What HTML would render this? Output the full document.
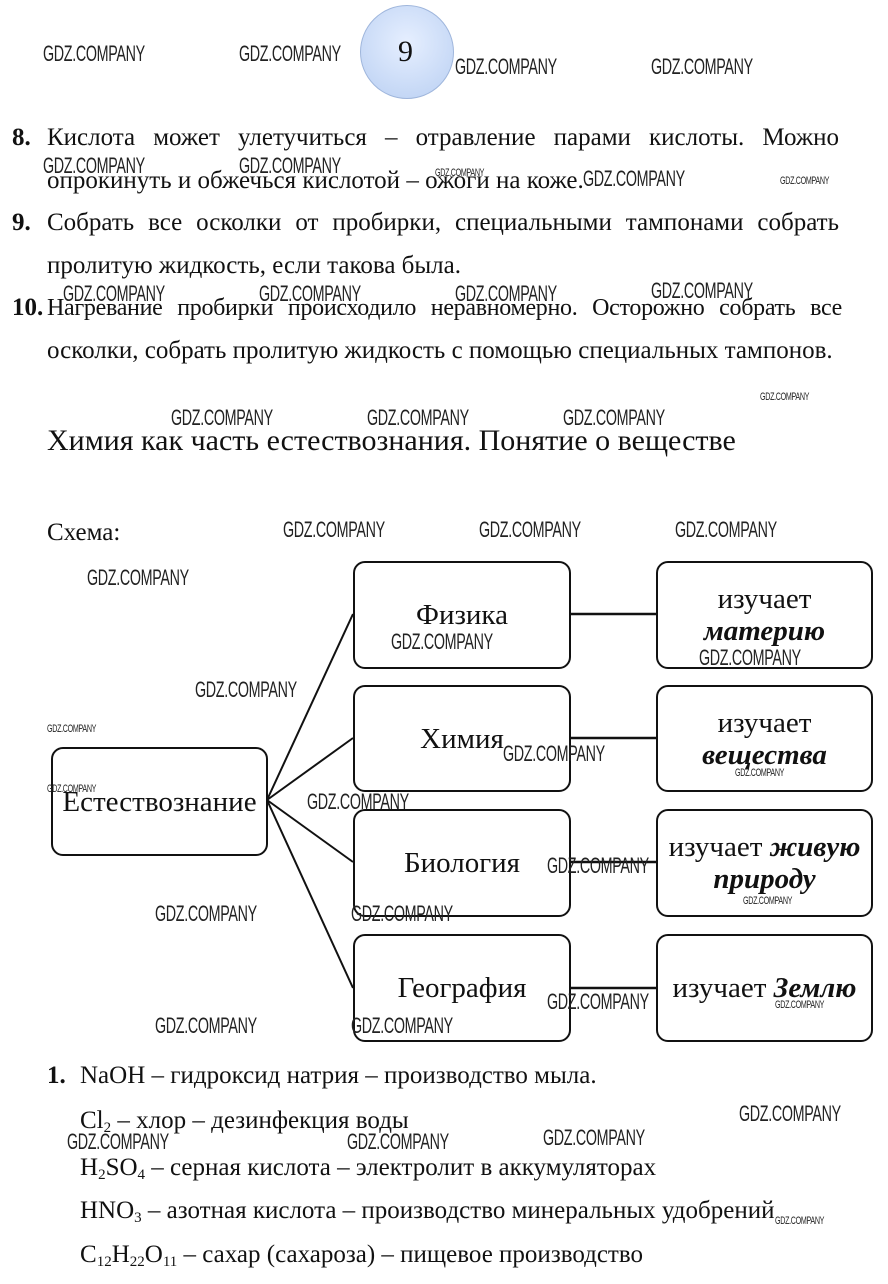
<!DOCTYPE html>
<html><head><meta charset="utf-8"><style>
body{margin:0;background:#fff;}
#p{position:relative;width:888px;height:1284px;overflow:hidden;font-family:"Liberation Serif","Noto Serif CJK SC",serif;color:#111;}
.t{position:absolute;font-size:25px;line-height:28px;white-space:nowrap;}
.j{text-align:justify;text-align-last:justify;white-space:normal;}
.w{position:absolute;font-family:"Liberation Sans",sans-serif;font-size:22px;line-height:22px;transform:scaleX(0.65);transform-origin:0 0;white-space:nowrap;color:#222;letter-spacing:-0.5px;}
.s{font-size:11px;line-height:11px;}
.b{position:absolute;border:2px solid #111;border-radius:12px;box-sizing:border-box;font-size:29px;line-height:32px;}
.b>div{position:absolute;left:0;right:0;top:50%;transform:translateY(-50%);text-align:center;}
i b{font-weight:bold;}
sub{font-size:15px;vertical-align:-4px;line-height:0;}
</style></head><body><div id="p">
<div style="position:absolute;left:360px;top:5px;width:94px;height:94px;border-radius:50%;background:radial-gradient(circle at 50% 40%,#e6efff,#b9cff2);border:1px solid #9fb6dc;box-sizing:border-box;"></div>
<div class="t" style="left:398px;top:36px;font-size:30px;line-height:32px;">9</div>

<div class="t" style="left:12px;top:124px;font-weight:bold;">8.</div>
<div class="t j" style="left:47px;top:124px;width:792px;">Кислота может улетучиться – отравление парами кислоты. Можно</div>
<div class="t" style="left:47px;top:167px;">опрокинуть и обжечься кислотой – ожоги на коже.</div>
<div class="t" style="left:12px;top:209px;font-weight:bold;">9.</div>
<div class="t j" style="left:47px;top:209px;width:792px;">Собрать все осколки от пробирки, специальными тампонами собрать</div>
<div class="t" style="left:47px;top:252px;">пролитую жидкость, если такова была.</div>
<div class="t" style="left:12px;top:294px;font-weight:bold;">10.</div>
<div class="t j" style="left:47px;top:294px;width:795px;font-size:24px;letter-spacing:-0.3px;">Нагревание пробирки происходило неравномерно. Осторожно собрать все</div>
<div class="t" style="left:47px;top:337px;">осколки, собрать пролитую жидкость с помощью специальных тампонов.</div>

<div class="t" style="left:47px;top:424px;font-size:30px;line-height:34px;">Химия как часть естествознания. Понятие о веществе</div>
<div class="t" style="left:47px;top:519px;">Схема:</div>

<svg style="position:absolute;left:0;top:0" width="888" height="1284">
<g stroke="#111" stroke-width="2" fill="none">
<line x1="267" y1="800" x2="353" y2="614"/>
<line x1="267" y1="800" x2="353" y2="738"/>
<line x1="267" y1="800" x2="353" y2="862"/>
<line x1="267" y1="800" x2="353" y2="988"/>
<line x1="570" y1="614" x2="656" y2="614" stroke-width="2.5"/>
<line x1="570" y1="738" x2="656" y2="738" stroke-width="2.5"/>
<line x1="570" y1="862" x2="656" y2="862" stroke-width="2.5"/>
<line x1="570" y1="988" x2="656" y2="988" stroke-width="2.5"/>
</g></svg>

<div class="b" style="left:51px;top:747px;width:217px;height:109px;"><div>Естествознание</div></div>
<div class="b" style="left:353px;top:561px;width:218px;height:108px;"><div>Физика</div></div>
<div class="b" style="left:353px;top:685px;width:218px;height:107px;"><div>Химия</div></div>
<div class="b" style="left:353px;top:809px;width:218px;height:108px;"><div>Биология</div></div>
<div class="b" style="left:353px;top:934px;width:218px;height:108px;"><div>География</div></div>
<div class="b" style="left:656px;top:561px;width:217px;height:108px;"><div>изучает<br><i><b>материю</b></i></div></div>
<div class="b" style="left:656px;top:685px;width:217px;height:107px;"><div>изучает<br><i><b>вещества</b></i></div></div>
<div class="b" style="left:656px;top:809px;width:217px;height:108px;"><div>изучает <i><b>живую</b></i><br><i><b>природу</b></i></div></div>
<div class="b" style="left:656px;top:934px;width:217px;height:108px;"><div>изучает <i><b>Землю</b></i></div></div>

<div class="t" style="left:47px;top:1062px;font-weight:bold;">1.</div>
<div class="t" style="left:80px;top:1062px;">NaOH – гидроксид натрия – производство мыла.</div>
<div class="t" style="left:80px;top:1107px;">Cl<sub>2</sub> – хлор – дезинфекция воды</div>
<div class="t" style="left:80px;top:1154px;">H<sub>2</sub>SO<sub>4</sub> – серная кислота – электролит в аккумуляторах</div>
<div class="t" style="left:80px;top:1197px;">HNO<sub>3</sub> – азотная кислота – производство минеральных удобрений</div>
<div class="t" style="left:80px;top:1241px;">C<sub>12</sub>H<sub>22</sub>O<sub>11</sub> – сахар (сахароза) – пищевое производство</div>

<div class="w" style="left:43px;top:43px;">GDZ.COMPANY</div>
<div class="w" style="left:239px;top:43px;">GDZ.COMPANY</div>
<div class="w" style="left:455px;top:56px;">GDZ.COMPANY</div>
<div class="w" style="left:651px;top:56px;">GDZ.COMPANY</div>
<div class="w" style="left:43px;top:155px;">GDZ.COMPANY</div>
<div class="w" style="left:239px;top:155px;">GDZ.COMPANY</div>
<div class="w s" style="left:435px;top:168px;">GDZ.COMPANY</div>
<div class="w" style="left:583px;top:168px;">GDZ.COMPANY</div>
<div class="w s" style="left:780px;top:176px;">GDZ.COMPANY</div>
<div class="w" style="left:63px;top:283px;">GDZ.COMPANY</div>
<div class="w" style="left:259px;top:283px;">GDZ.COMPANY</div>
<div class="w" style="left:455px;top:283px;">GDZ.COMPANY</div>
<div class="w" style="left:651px;top:280px;">GDZ.COMPANY</div>
<div class="w s" style="left:760px;top:392px;">GDZ.COMPANY</div>
<div class="w" style="left:171px;top:407px;">GDZ.COMPANY</div>
<div class="w" style="left:367px;top:407px;">GDZ.COMPANY</div>
<div class="w" style="left:563px;top:407px;">GDZ.COMPANY</div>
<div class="w" style="left:283px;top:519px;">GDZ.COMPANY</div>
<div class="w" style="left:479px;top:519px;">GDZ.COMPANY</div>
<div class="w" style="left:675px;top:519px;">GDZ.COMPANY</div>
<div class="w" style="left:87px;top:567px;">GDZ.COMPANY</div>
<div class="w" style="left:391px;top:631px;">GDZ.COMPANY</div>
<div class="w" style="left:699px;top:647px;">GDZ.COMPANY</div>
<div class="w" style="left:195px;top:679px;">GDZ.COMPANY</div>
<div class="w s" style="left:47px;top:724px;">GDZ.COMPANY</div>
<div class="w" style="left:503px;top:743px;">GDZ.COMPANY</div>
<div class="w s" style="left:735px;top:768px;">GDZ.COMPANY</div>
<div class="w s" style="left:47px;top:784px;">GDZ.COMPANY</div>
<div class="w" style="left:307px;top:791px;">GDZ.COMPANY</div>
<div class="w" style="left:547px;top:855px;">GDZ.COMPANY</div>
<div class="w s" style="left:743px;top:896px;">GDZ.COMPANY</div>
<div class="w" style="left:155px;top:903px;">GDZ.COMPANY</div>
<div class="w" style="left:351px;top:903px;">GDZ.COMPANY</div>
<div class="w" style="left:547px;top:991px;">GDZ.COMPANY</div>
<div class="w s" style="left:775px;top:1000px;">GDZ.COMPANY</div>
<div class="w" style="left:155px;top:1015px;">GDZ.COMPANY</div>
<div class="w" style="left:351px;top:1015px;">GDZ.COMPANY</div>
<div class="w" style="left:739px;top:1103px;">GDZ.COMPANY</div>
<div class="w" style="left:67px;top:1131px;">GDZ.COMPANY</div>
<div class="w" style="left:347px;top:1131px;">GDZ.COMPANY</div>
<div class="w" style="left:543px;top:1127px;">GDZ.COMPANY</div>
<div class="w s" style="left:775px;top:1216px;">GDZ.COMPANY</div>
</div></body></html>
